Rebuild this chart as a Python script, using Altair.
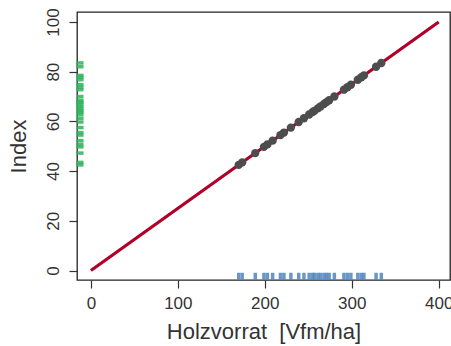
import altair as alt
import pandas as pd

# Holzvorrat (Vfm/ha) of the sample plots and the derived index
holzvorrat = [170, 174, 189, 199, 203, 209, 218, 222, 230, 239, 245, 251, 255,
              257, 261, 264, 268, 271, 274, 280, 291, 295, 299, 307, 311, 314,
              328, 334]
index = [42.5, 43.5, 47.25, 49.75, 50.75, 52.25, 54.5, 55.5, 57.5, 59.75,
         61.25, 62.75, 63.75, 64.25, 65.25, 66.0, 67.0, 67.75, 68.5, 70.0,
         72.75, 73.75, 74.75, 76.75, 77.75, 78.5, 82.0, 83.5]

# linear transfer function
line_x = [0, 400]
line_y = [0, 100]

x_ticks = [0, 100, 200, 300, 400]
y_ticks = [0, 20, 40, 60, 80, 100]

pts = pd.DataFrame({"x": holzvorrat, "y": index})
pts["rug_y"] = -2.3
pts["rug_x"] = -12.5
line_df = pd.DataFrame({"x": line_x, "y": line_y})

FONT = "Liberation Sans"
TXT = "#333333"

xs = alt.Scale(domain=[-16, 413], nice=False, zero=False)
ys = alt.Scale(domain=[-3.8, 104], nice=False, zero=False)

x_axis = alt.Axis(values=x_ticks, title="Holzvorrat\u00a0 [Vfm/ha]", grid=False,
                  domain=False, tickSize=8, tickColor=TXT, tickWidth=1.2,
                  labelFontSize=17, labelColor=TXT, labelFont=FONT,
                  labelPadding=7, titleFontSize=22, titleColor=TXT,
                  titleFont=FONT, titleFontWeight="normal", titlePadding=10)
y_axis = alt.Axis(values=y_ticks, title="Index", grid=False, domain=False,
                  tickSize=8, tickColor=TXT, tickWidth=1.2, labelFontSize=17,
                  labelColor=TXT, labelFont=FONT, labelAngle=270,
                  labelAlign="center", labelBaseline="bottom", labelPadding=7,
                  titleFontSize=22, titleColor=TXT, titleFont=FONT,
                  titleFontWeight="normal", titlePadding=14)

line = alt.Chart(line_df).mark_line(color="#B0002A", strokeWidth=3.2).encode(
    x=alt.X("x:Q", scale=xs, axis=x_axis),
    y=alt.Y("y:Q", scale=ys, axis=y_axis),
)

points = alt.Chart(pts).mark_circle(color="#4D4D4D", opacity=1, size=70).encode(
    x=alt.X("x:Q", scale=xs),
    y=alt.Y("y:Q", scale=ys),
)

rug_x = alt.Chart(pts).mark_tick(color="#4F86BE", opacity=0.85, orient="vertical",
                                 size=7, thickness=3.5).encode(
    x=alt.X("x:Q", scale=xs),
    y=alt.Y("rug_y:Q", scale=ys),
)

rug_y = alt.Chart(pts).mark_tick(color="#2DB35A", opacity=0.85, orient="horizontal",
                                 size=7, thickness=3.5).encode(
    x=alt.X("rug_x:Q", scale=xs),
    y=alt.Y("y:Q", scale=ys),
)

chart = (
    alt.layer(line, rug_x, rug_y, points)
    .properties(width=373, height=268,
                padding={"left": 77, "top": 12, "right": 1, "bottom": 66},
                autosize=alt.AutoSizeParams(type="none"),
                background="white")
    .configure_view(stroke="#222222", strokeWidth=1.3)
)

chart.save("out.html", embed_options={"renderer": "svg", "actions": False})
